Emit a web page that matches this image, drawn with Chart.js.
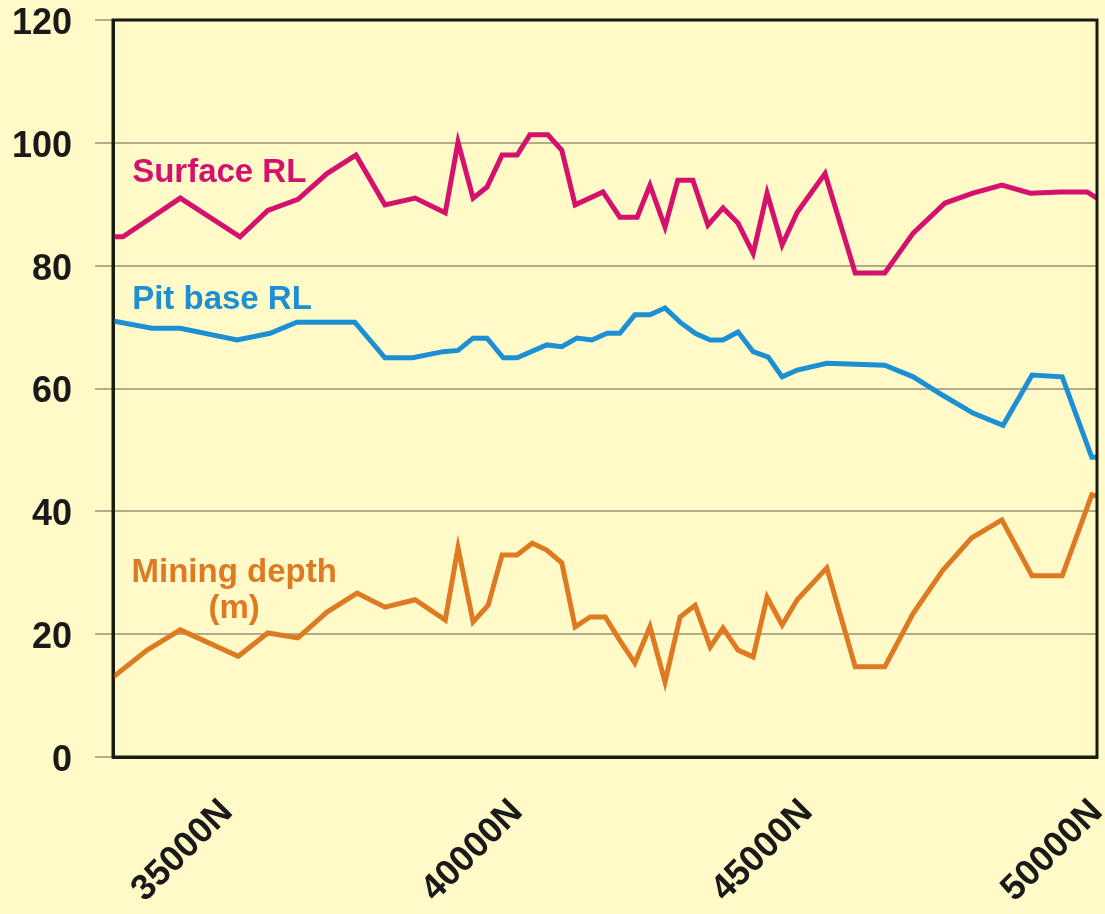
<!DOCTYPE html>
<html>
<head>
<meta charset="utf-8">
<script src="https://cdn.jsdelivr.net/npm/chart.js@4/dist/chart.umd.min.js"></script>
<style>
  html, body { margin: 0; padding: 0; background: #FFFAC8; }
  #wrap { width: 1105px; height: 914px; }
</style>
</head>
<body>
<div id="wrap"><canvas id="c" width="1105" height="914"></canvas></div>
<script>
// ---- Data (northing in metres, values in metres) ----
const surfaceN = [33030,33200,34190,35220,35700,36220,36720,37220,37720,38240,38760,38980,39240,39480,39740,40000,40220,40530,40770,41000,41480,41770,42070,42290,42550,42770,43030,43290,43550,43810,44070,44310,44570,44830,45310,45830,46340,46830,47380,47860,48360,48850,49360,49830,50000];
const surfaceRL = [84.7,84.7,91,84.7,89,90.8,95,98,89.9,91,88.6,100.1,91,92.8,98,98,101.3,101.3,98.8,89.9,92,87.9,87.9,93.1,86.3,93.9,93.9,86.6,89.4,86.9,82,91.8,83.4,88.7,95,78.8,78.8,85.3,90.2,91.8,93.1,91.8,92,92,91];

const pitN = [33030,33700,34190,35170,35740,36200,37200,37720,38200,38720,38980,39240,39480,39760,40000,40510,40770,41030,41290,41550,41770,42030,42290,42550,42810,43070,43330,43550,43810,44070,44330,44570,44830,45340,46340,46830,47340,47860,48380,48880,49400,49910,50000];
const pitBaseRL = [71,69.8,69.8,67.9,69,70.8,70.8,65,65,66,66.2,68.2,68.2,65,65,67.1,66.8,68.2,67.9,69,69,72,72,73.1,70.8,69,67.9,67.9,69.2,66,65.1,61.9,63,64.1,63.8,61.9,58.9,56,54,62.2,61.9,48.8,48.8];

const depthN = [33030,33620,34190,35190,35700,36220,36720,37240,37720,38240,38760,38980,39240,39500,39740,40000,40260,40510,40770,41000,41260,41520,41770,42030,42290,42550,42810,43070,43330,43550,43810,44070,44310,44570,44830,45340,45830,46340,46830,47340,47840,48360,48880,49400,49910,50000];
const miningDepth = [13,17.4,20.7,16.4,20.2,19.4,23.6,26.7,24.4,25.6,22.3,34.1,22,24.7,32.9,32.9,34.8,33.7,31.6,21.2,22.8,22.8,19,15.3,21.2,12.2,22.8,24.7,17.9,21,17.4,16.3,26,21.5,25.6,30.8,14.7,14.7,23.4,30.4,35.7,38.6,29.5,29.5,42.7,42.5];

const xTickValues = [35000, 40000, 45000, 50000];
const xTickLabels = ['35000N', '40000N', '45000N', '50000N'];
const yTickValues = [0, 20, 40, 60, 80, 100, 120];

// Series labels: [text, northing, value, align, colour]
const seriesLabels = [
  ['Surface RL', 33360, 93.6, 'left', '#D4126E'],
  ['Pit base RL', 33360, 72.9, 'left', '#1C90D2'],
  ['Mining depth', 35120, 28.5, 'center', '#DE7A22'],
  ['(m)', 35120, 22.6, 'center', '#DE7A22']
];

const toPts = (xs, ys) => xs.map((x, i) => ({ x: x, y: ys[i] }));

const FONT = '"Liberation Sans", Arial, sans-serif';

const labelPlugin = {
  id: 'labels',
  afterDatasetsDraw(chart) {
    const ctx = chart.ctx, xs = chart.scales.x, ys = chart.scales.y;
    ctx.save();
    ctx.font = 'bold 33px ' + FONT;
    ctx.textBaseline = 'alphabetic';
    seriesLabels.forEach(([t, n, v, al, col]) => {
      ctx.fillStyle = col;
      ctx.textAlign = al;
      ctx.fillText(t, xs.getPixelForValue(n), ys.getPixelForValue(v));
    });
    ctx.restore();
  },
  afterDraw(chart) {
    const a = chart.chartArea, ctx = chart.ctx;
    ctx.save();
    ctx.strokeStyle = '#1a1a10';
    ctx.lineWidth = 3;
    ctx.strokeRect(a.left, a.top, a.right - a.left, a.bottom - a.top);
    ctx.restore();
  }
};

new Chart(document.getElementById('c'), {
  type: 'line',
  data: {
    datasets: [
      { label: 'Surface RL', data: toPts(surfaceN, surfaceRL), borderColor: '#D4126E', borderWidth: 5, pointRadius: 0, tension: 0 },
      { label: 'Pit base RL', data: toPts(pitN, pitBaseRL), borderColor: '#1C90D2', borderWidth: 5, pointRadius: 0, tension: 0 },
      { label: 'Mining depth (m)', data: toPts(depthN, miningDepth), borderColor: '#DE7A22', borderWidth: 5, pointRadius: 0, tension: 0 }
    ]
  },
  options: {
    responsive: false,
    animation: false,
    events: [],
    layout: { padding: { top: 20, right: 8, left: 0, bottom: 0 } },
    plugins: { legend: { display: false }, tooltip: { enabled: false } },
    scales: {
      x: {
        type: 'linear',
        min: 33030,
        max: 50000,
        afterBuildTicks: s => { s.ticks = xTickValues.map(v => ({ value: v })); },
        afterFit: s => { s.height = 157; s.paddingLeft = 0; s.paddingRight = 0; },
        grid: { display: false },
        border: { display: true, color: '#1a1a10', width: 3 },
        ticks: {
          autoSkip: false,
          minRotation: 45,
          maxRotation: 45,
          padding: 26,
          color: '#1a1a1a',
          font: { family: FONT, size: 36, weight: 'bold' },
          callback: v => xTickLabels[xTickValues.indexOf(v)]
        }
      },
      y: {
        min: 0,
        max: 120,
        afterBuildTicks: s => { s.ticks = yTickValues.map(v => ({ value: v })); },
        afterFit: s => { s.width = 113; s.paddingTop = 0; s.paddingBottom = 0; },
        grid: { color: '#B3AB8A', lineWidth: 2, tickLength: 18, drawTicks: true },
        border: { display: true, color: '#1a1a10', width: 3 },
        ticks: {
          padding: 23,
          labelOffset: 4,
          color: '#1a1a1a',
          font: { family: FONT, size: 36, weight: 'bold' }
        }
      }
    }
  },
  plugins: [labelPlugin]
});
</script>
</body>
</html>
